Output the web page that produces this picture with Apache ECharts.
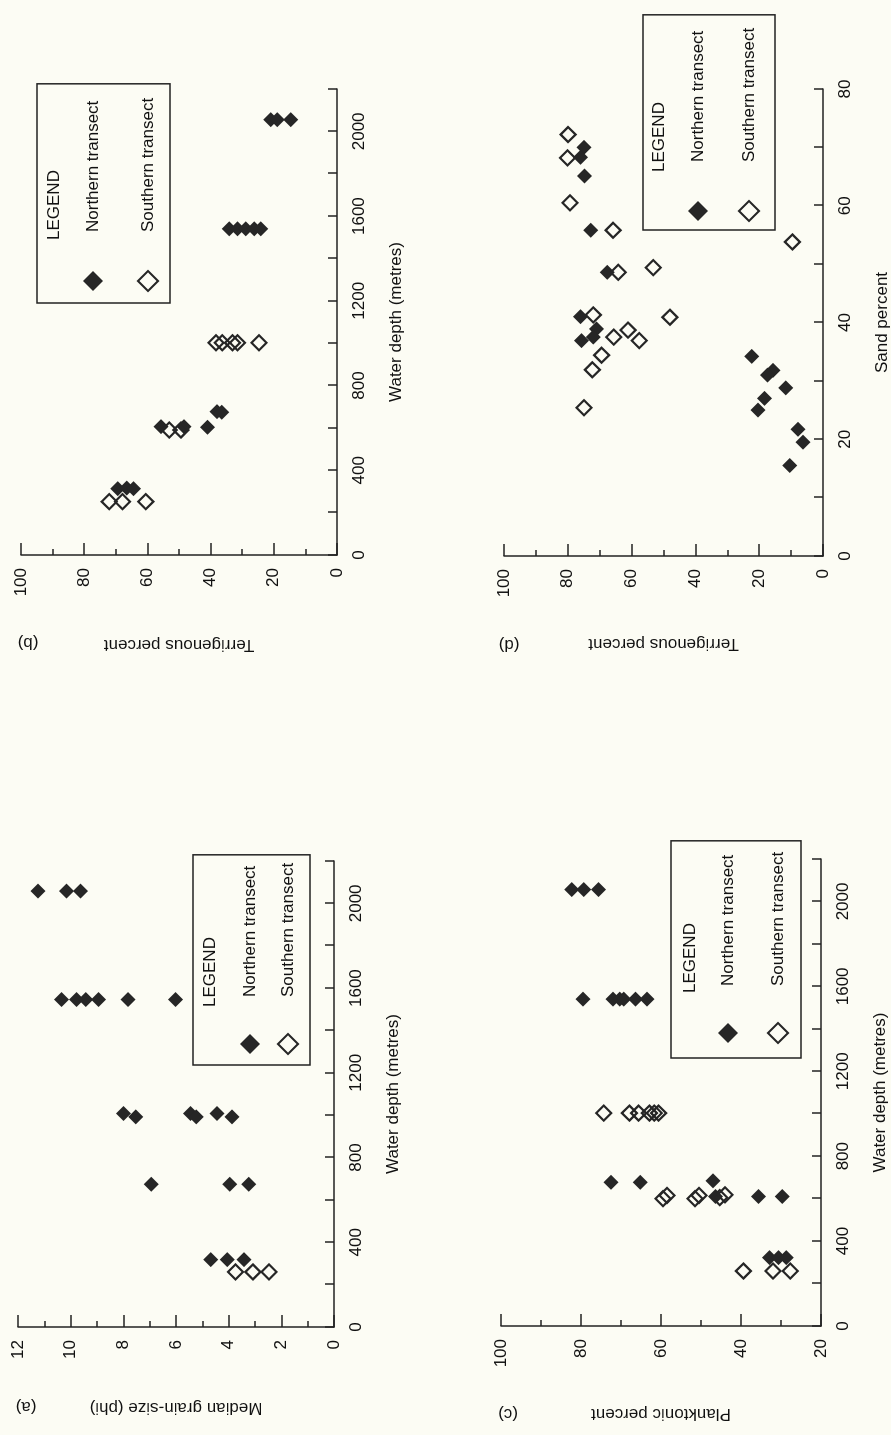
<!DOCTYPE html>
<html>
<head>
<meta charset="utf-8">
<title>Sediment properties against water depth</title>
<script src="https://cdn.jsdelivr.net/npm/echarts@6/dist/echarts.min.js"></script>
<style>
  html, body { margin: 0; padding: 0; width: 891px; height: 1435px; overflow: hidden; background: #fcfcf4; }
  /* the figure sits sideways on the page: draw it upright, then turn it a quarter to the left */
  #page { position: absolute; left: -272px; top: 272px; width: 1435px; height: 891px; transform: rotate(-90deg); }
</style>
</head>
<body>
<div id="page"></div>
<script>
(function (echarts) {
  "use strict";

  // (a) median grain-size, [water depth m, phi]
  var grainNorth = [
    [318, 4.68], [318, 4.05], [318, 3.42],
    [674, 6.94], [674, 3.96], [674, 3.24],
    [1008, 7.99], [992, 7.53], [1008, 5.45], [992, 5.23], [1008, 4.44], [992, 3.87],
    [1546, 10.35], [1546, 9.78], [1546, 9.43], [1546, 8.94], [1546, 7.82], [1546, 6.02],
    [2058, 11.24], [2058, 10.16], [2058, 9.63]
  ];
  var grainSouth = [[260, 3.74], [260, 3.08], [260, 2.47]];

  // (b) terrigenous percent, [water depth m, %]
  var terrDepthNorth = [
    [313, 69.4], [316, 66.5], [313, 64.4],
    [606, 55.7], [606, 48.4], [603, 41.0], [677, 38.0], [674, 36.5],
    [1540, 34.1], [1540, 31.5], [1540, 28.9], [1540, 26.2], [1540, 24.1],
    [2055, 21.0], [2055, 18.9], [2055, 14.6]
  ];
  var terrDepthSouth = [
    [252, 72.1], [252, 67.9], [252, 60.5],
    [590, 53.1], [590, 49.4],
    [1002, 38.3], [1002, 36.3], [1002, 33.1], [1002, 31.5], [1002, 24.7]
  ];

  // (c) planktonic percent, [water depth m, %]
  var planktonNorth = [
    [322, 32.9], [322, 30.6], [322, 28.7],
    [610, 46.4], [610, 35.6], [610, 29.7], [677, 72.5], [677, 65.2], [684, 47.0],
    [1540, 79.5], [1540, 72.0], [1540, 70.3], [1540, 69.3], [1540, 66.4], [1540, 63.5],
    [2056, 82.3], [2056, 79.3], [2056, 75.6]
  ];
  var planktonSouth = [
    [259, 39.4], [259, 32.0], [259, 27.7],
    [600, 59.5], [615, 58.5], [600, 51.5], [615, 50.5], [605, 45.3], [618, 44.0],
    [1003, 74.3], [1003, 67.9], [1003, 65.6], [1003, 62.9], [1003, 61.7], [1003, 60.6]
  ];

  // (d) terrigenous percent against sand percent, [sand %, terrigenous %]
  var sandNorth = [
    [70.0, 74.9], [68.3, 76.0], [65.1, 74.8], [55.8, 72.8], [48.6, 67.6],
    [41.0, 76.0], [38.9, 71.0], [36.9, 75.7], [37.5, 72.0],
    [34.2, 22.3], [31.8, 15.7], [31.0, 17.4], [28.8, 11.7], [27.0, 18.3],
    [25.0, 20.4], [21.7, 7.8], [19.5, 6.3], [15.5, 10.4]
  ];
  var sandSouth = [
    [72.2, 79.9], [68.2, 80.1], [60.5, 79.3], [55.8, 65.8], [53.8, 9.6],
    [49.4, 53.2], [48.6, 64.2], [41.3, 72.0], [40.9, 48.0], [38.7, 61.1],
    [37.5, 65.6], [36.9, 57.6], [34.4, 69.4], [31.9, 72.3], [25.4, 74.9]
  ];

  // labelled ticks (the other ticks stay bare)
  var depthLabels = [0, 400, 800, 1200, 1600, 2000];
  var sandLabels = [0, 20, 40, 60, 80];

  var seriesNames = ["Northern transect", "Southern transect"];
  var panelLetters = ["(a)", "(b)", "(c)", "(d)"];

  var INK = "#111"
    , LINE = "#222"
    , MARK = "#262626"
    , FONT = "'Liberation Sans', Arial, sans-serif";

  var element = document.getElementById("page");
  var chart = echarts.init(element, null, { renderer: "canvas" });

  function onlyLabels(list) {
    return function (v) {
      return list.indexOf(v) > -1 ? String(v) : "";
    };
  }

  function bottomAxis(gridIndex, name, max, interval, labels) {
    return {
      type: "value",
      gridIndex: gridIndex,
      min: 0,
      max: max,
      interval: interval,
      name: name,
      nameLocation: "middle",
      nameGap: 51,
      nameTextStyle: { fontSize: 17, color: INK, fontFamily: FONT },
      axisLine: { lineStyle: { color: LINE, width: 1.5 } },
      axisTick: { inside: true, length: 9, lineStyle: { color: LINE, width: 1.5 } },
      axisLabel: { margin: 14, fontSize: 17, color: INK, fontFamily: FONT, formatter: onlyLabels(labels) },
      splitLine: { show: false }
    };
  }

  function leftAxis(gridIndex, name, min, max, interval, nameGap) {
    return {
      type: "value",
      gridIndex: gridIndex,
      min: min,
      max: max,
      interval: interval,
      name: name,
      nameLocation: "middle",
      nameGap: nameGap,
      nameTextStyle: { fontSize: 17, color: INK, fontFamily: FONT },
      axisLine: { lineStyle: { color: LINE, width: 1.5 } },
      axisTick: { inside: true, length: 12, lineStyle: { color: LINE, width: 1.5 } },
      minorTick: { show: true, splitNumber: 2, length: 6, lineStyle: { color: LINE, width: 1.5 } },
      axisLabel: { margin: 13, fontSize: 17, color: INK, fontFamily: FONT },
      splitLine: { show: false }
    };
  }

  function scatter(name, gridIndex, data, hollow) {
    return {
      type: "scatter",
      name: name,
      xAxisIndex: gridIndex,
      yAxisIndex: gridIndex,
      data: data,
      symbol: "diamond",
      symbolSize: 15,
      itemStyle: hollow
        ? { color: "rgba(0,0,0,0)", borderColor: MARK, borderWidth: 2.2, opacity: 1 }
        : { color: MARK, opacity: 1 },
      emphasis: { disabled: true }
    };
  }

  function legendBox(left, top, padding, itemGap, textGap) {
    return {
      data: seriesNames,
      orient: "vertical",
      left: left,
      top: top,
      padding: padding,
      itemGap: itemGap,
      itemWidth: 20,
      itemHeight: 20,
      selectedMode: false,
      borderColor: LINE,
      borderWidth: 1.5,
      textStyle: { fontSize: 17, lineHeight: 20, color: INK, fontFamily: FONT, padding: [0, 0, 0, textGap] }
    };
  }

  function text(content, x, y, rotated, align) {
    return {
      type: "text",
      x: x,
      y: y,
      rotation: rotated ? Math.PI / 2 : 0,
      silent: true,
      style: {
        text: content,
        fontSize: 17,
        fontFamily: FONT,
        fill: INK,
        textAlign: align || "center",
        textVerticalAlign: "middle"
      }
    };
  }

  chart.setOption({
    animation: false,
    grid: [
      { left: 108, top: 18, width: 466, height: 316, outerBoundsMode: "none" },
      { left: 880, top: 21, width: 466, height: 316, outerBoundsMode: "none" },
      { left: 109, top: 501, width: 467, height: 320, outerBoundsMode: "none" },
      { left: 879, top: 504, width: 467, height: 319, outerBoundsMode: "none" }
    ],
    xAxis: [
      bottomAxis(0, "Water depth (metres)", 2200, 200, depthLabels),
      bottomAxis(1, "Water depth (metres)", 2200, 200, depthLabels),
      bottomAxis(2, "Water depth (metres)", 2200, 200, depthLabels),
      bottomAxis(3, "Sand percent", 80, 10, sandLabels)
    ],
    yAxis: [
      leftAxis(0, "Median grain-size (phi)", 0, 12, 2, 72),
      leftAxis(1, "Terrigenous percent", 0, 100, 20, 81),
      leftAxis(2, "Planktonic percent", 20, 100, 20, 79),
      leftAxis(3, "Terrigenous percent", 0, 100, 20, 79)
    ],
    legend: [
      legendBox(370, 193, [47, 8, 11, 10], 17, 32),
      legendBox(1132, 37, [46, 14, 11, 11], 34, 34),
      legendBox(377, 671, [47, 11, 12, 14], 29, 32),
      legendBox(1205, 643, [45, 13, 15, 8], 30, 34)
    ],
    graphic: [
      text(panelLetters[0], 28, 26, true),
      text(panelLetters[1], 792, 28, true),
      text(panelLetters[2], 21, 508, true),
      text(panelLetters[3], 790, 509, true),
      text("LEGEND", 428, 210, false, "left"),
      text("LEGEND", 1195, 54, false, "left"),
      text("LEGEND", 442, 690, false, "left"),
      text("LEGEND", 1263, 659, false, "left")
    ],
    series: [
      scatter(seriesNames[0], 0, grainNorth, false),
      scatter(seriesNames[1], 0, grainSouth, true),
      scatter(seriesNames[0], 1, terrDepthNorth, false),
      scatter(seriesNames[1], 1, terrDepthSouth, true),
      scatter(seriesNames[0], 2, planktonNorth, false),
      scatter(seriesNames[1], 2, planktonSouth, true),
      scatter(seriesNames[0], 3, sandNorth, false),
      scatter(seriesNames[1], 3, sandSouth, true)
    ]
  });
})(echarts);
</script>
</body>
</html>
